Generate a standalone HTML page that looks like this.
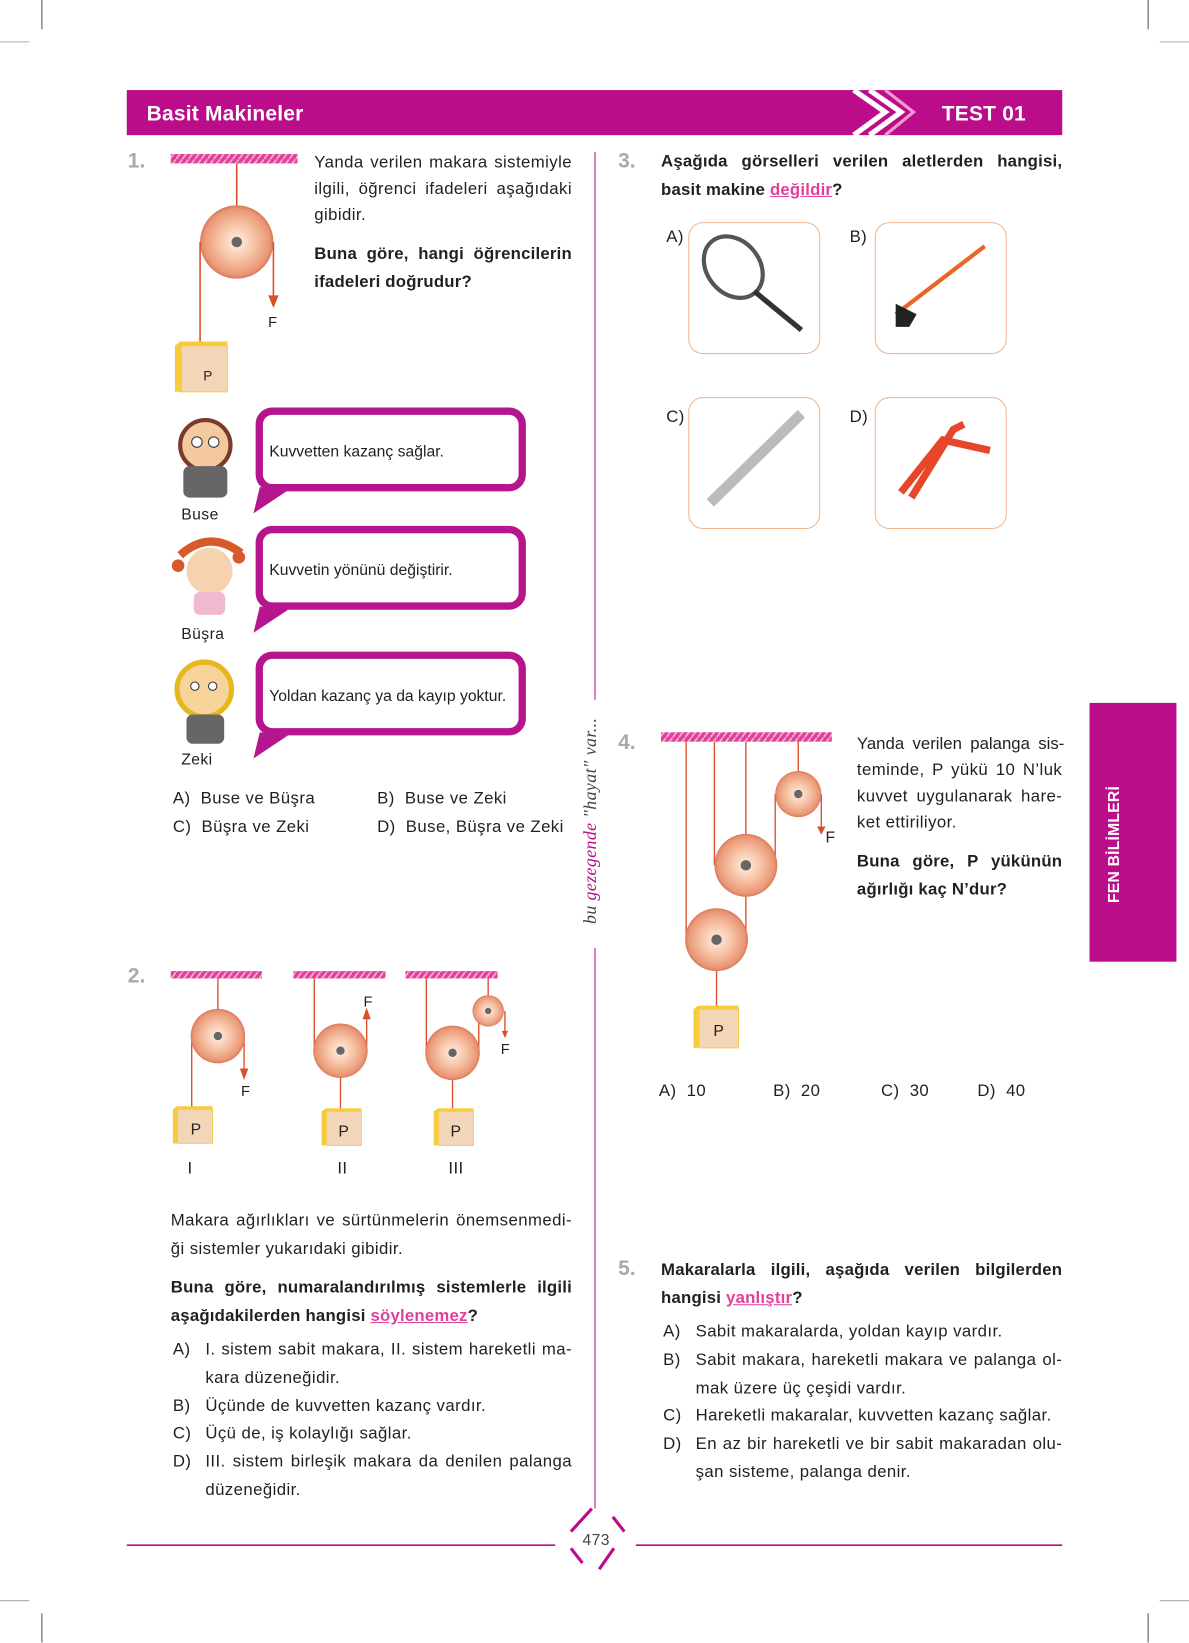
<!DOCTYPE html>
<html><head><meta charset="utf-8"><style>
html,body{margin:0;padding:0;background:#fff;}
body{width:1189px;height:1643px;overflow:hidden;position:relative;}
#w{position:absolute;left:0;top:0;width:1135px;height:1568px;transform:scale(1.04758);transform-origin:0 0;font-family:"Liberation Sans",sans-serif;color:#231f20;}
.t{position:absolute;font-size:16px;white-space:nowrap;line-height:1;letter-spacing:0.4px;margin-top:2px;}
.j{text-align:justify;text-align-last:justify;white-space:normal;}
.b{font-weight:bold;letter-spacing:0.2px;}
.n{position:absolute;font-size:20px;font-weight:bold;color:#a7a9ac;}
.u{color:#e0409a;text-decoration:underline;}
.bub{position:absolute;left:244px;width:258px;height:72px;border:7px solid #b5168e;border-radius:16px;box-sizing:border-box;background:#fff;font-size:15px;}
.bub span{position:absolute;left:6px;top:27px;white-space:nowrap;}
.box{position:absolute;width:126px;height:126px;border:1.5px solid #f2b48f;border-radius:14px;box-sizing:border-box;}
</style></head><body><div id="w">
<svg width="1135" height="1568" style="position:absolute;left:0;top:0">
<defs>
<pattern id="h" width="6" height="8" patternUnits="userSpaceOnUse"><rect width="6" height="8" fill="#e0409a"/><path d="M0 8 L6 0" stroke="#f7b8d8" stroke-width="1.5"/></pattern>
<radialGradient id="pg"><stop offset="0" stop-color="#fff0e6"/><stop offset="0.5" stop-color="#f6c2a4"/><stop offset="0.9" stop-color="#e99775"/><stop offset="1" stop-color="#d9785a"/></radialGradient>
<g id="bx"><path d="M0 4 L5 0 L50 0 L50 44 L45 48 L0 48Z" fill="#f6cc3c"/><rect x="6" y="4" width="44" height="44" fill="#f3d6b8" stroke="#f6cc3c"/></g>
</defs>
<g stroke="#555" stroke-width="1"><line x1="40" y1="0" x2="40" y2="28"/><line x1="1096" y1="0" x2="1096" y2="28"/><line x1="40" y1="1540" x2="40" y2="1568"/><line x1="1096" y1="1540" x2="1096" y2="1568"/></g>
<g stroke="#aaa" stroke-width="1"><line x1="0" y1="40" x2="28" y2="40"/><line x1="1107" y1="40" x2="1135" y2="40"/><line x1="0" y1="1528" x2="28" y2="1528"/><line x1="1107" y1="1528" x2="1135" y2="1528"/></g>
<rect x="121" y="86" width="893" height="43" fill="#bb0d8a"/>
<path d="M815 86 L845 107 L815 129 M830 86 L860 107 L830 129" stroke="#fff" stroke-width="5" fill="none"/>
<path d="M845 86 L872 107 L845 129" stroke="#f39ad0" stroke-width="3" fill="none"/>
<line x1="568" y1="145" x2="568" y2="668" stroke="#bb0d8a"/>
<line x1="568" y1="905" x2="568" y2="1440" stroke="#bb0d8a"/>
<rect x="1040" y="671" width="83" height="247" fill="#bb0d8a"/>
<line x1="121" y1="1475" x2="530" y2="1475" stroke="#bb0d8a" stroke-width="1.5"/>
<line x1="607" y1="1475" x2="1014" y2="1475" stroke="#bb0d8a" stroke-width="1.5"/>
<path d="M565 1440 L545 1462 M585 1448 L596 1462 M545 1478 L556 1492 M586 1478 L572 1498" stroke="#bb0d8a" stroke-width="3" fill="none"/>
<!-- Q1 -->
<rect x="163" y="147" width="121" height="9" fill="url(#h)"/>
<line x1="226" y1="156" x2="226" y2="231" stroke="#d9502c" stroke-width="1.5"/>
<circle cx="226" cy="231" r="35" fill="url(#pg)"/>
<circle cx="226" cy="231" r="5" fill="#666"/>
<line x1="191" y1="231" x2="191" y2="328" stroke="#d9502c" stroke-width="1.5"/>
<line x1="261" y1="231" x2="261" y2="283" stroke="#d9502c" stroke-width="1.5"/>
<path d="M256 282 L266 282 L261 294Z" fill="#d9502c"/>
<use href="#bx" x="167" y="326"/>
<!-- characters -->
<g><circle cx="196" cy="425" r="24" fill="#f5c9a0" stroke="#7a3b2a" stroke-width="4"/><rect x="175" y="445" width="42" height="30" rx="6" fill="#666"/><circle cx="188" cy="422" r="5" fill="#fff" stroke="#333"/><circle cx="204" cy="422" r="5" fill="#fff" stroke="#333"/></g>
<g><circle cx="200" cy="545" r="22" fill="#f7d2b0"/><path d="M172 530 Q200 505 230 528" stroke="#d65a2a" stroke-width="8" fill="none"/><circle cx="170" cy="540" r="6" fill="#d65a2a"/><circle cx="228" cy="532" r="6" fill="#d65a2a"/><rect x="185" y="565" width="30" height="22" rx="6" fill="#f2b8d0"/></g>
<g><circle cx="195" cy="658" r="26" fill="#f7d49a" stroke="#e6b820" stroke-width="5"/><rect x="178" y="682" width="36" height="28" rx="6" fill="#666"/><circle cx="186" cy="655" r="4" fill="#fff" stroke="#333"/><circle cx="203" cy="655" r="4" fill="#fff" stroke="#333"/></g>
<path d="M248 465 L242 490 L275 468Z" fill="#b5168e"/>
<path d="M248 579 L242 604 L275 582Z" fill="#b5168e"/>
<path d="M248 699 L242 724 L275 702Z" fill="#b5168e"/>
<!-- Q2 -->
<rect x="163" y="927" width="87" height="7" fill="url(#h)"/>
<rect x="280" y="927" width="88" height="7" fill="url(#h)"/>
<rect x="387" y="927" width="88" height="7" fill="url(#h)"/>
<g stroke="#d9502c" stroke-width="1.3">
<line x1="208" y1="934" x2="208" y2="989"/><line x1="183" y1="989" x2="183" y2="1058"/><line x1="233" y1="989" x2="233" y2="1022"/>
<line x1="300" y1="934" x2="300" y2="1003"/><line x1="350" y1="1003" x2="350" y2="972"/><line x1="325" y1="1003" x2="325" y2="1060"/>
<line x1="407" y1="934" x2="407" y2="1005"/><line x1="432" y1="1005" x2="432" y2="1060"/><line x1="457" y1="1005" x2="457" y2="965"/><line x1="466" y1="934" x2="466" y2="965"/><line x1="482" y1="965" x2="482" y2="985"/>
</g>
<circle cx="208" cy="989" r="26" fill="url(#pg)"/><circle cx="208" cy="989" r="4" fill="#666"/>
<circle cx="325" cy="1003" r="26" fill="url(#pg)"/><circle cx="325" cy="1003" r="4" fill="#666"/>
<circle cx="432" cy="1005" r="26" fill="url(#pg)"/><circle cx="432" cy="1005" r="4" fill="#666"/>
<circle cx="466" cy="965" r="15" fill="url(#pg)"/><circle cx="466" cy="965" r="3" fill="#666"/>
<path d="M229 1020 L237 1020 L233 1031Z M346 973 L354 973 L350 962Z M479 984 L485 984 L482 991Z" fill="#d9502c"/>
<use href="#bx" transform="translate(165 1056) scale(0.76 0.74)"/>
<use href="#bx" transform="translate(307 1058) scale(0.76 0.74)"/>
<use href="#bx" transform="translate(414 1058) scale(0.76 0.74)"/>
<!-- Q4 -->
<rect x="631" y="699" width="163" height="9" fill="url(#h)"/>
<g stroke="#d9502c" stroke-width="1.3">
<line x1="762" y1="708" x2="762" y2="758"/><line x1="740" y1="758" x2="740" y2="826"/><line x1="784" y1="758" x2="784" y2="790"/>
<line x1="712" y1="708" x2="712" y2="826"/><line x1="682" y1="826" x2="682" y2="708"/><line x1="712" y1="826" x2="712" y2="897"/>
<line x1="655" y1="708" x2="655" y2="897"/><line x1="684" y1="897" x2="684" y2="962"/>
</g>
<circle cx="762" cy="758" r="22" fill="url(#pg)"/><circle cx="762" cy="758" r="4" fill="#666"/>
<circle cx="712" cy="826" r="30" fill="url(#pg)"/><circle cx="712" cy="826" r="5" fill="#666"/>
<circle cx="684" cy="897" r="30" fill="url(#pg)"/><circle cx="684" cy="897" r="5" fill="#666"/>
<path d="M780 789 L788 789 L784 797Z" fill="#d9502c"/>
<use href="#bx" transform="translate(662 960) scale(0.86 0.84)"/>
<!-- Q3 images -->
<ellipse cx="700" cy="255" rx="25" ry="32" transform="rotate(-40 700 255)" fill="none" stroke="#555" stroke-width="4"/>
<line x1="720" y1="278" x2="765" y2="315" stroke="#333" stroke-width="5"/>
<line x1="855" y1="300" x2="940" y2="235" stroke="#e8662a" stroke-width="4"/>
<path d="M855 290 L875 300 L868 312 L855 312Z" fill="#222"/>
<line x1="678" y1="480" x2="765" y2="395" stroke="#bbb" stroke-width="10"/>
<path d="M860 470 L900 420 L945 430 M870 475 L910 410 L920 405" stroke="#e8462a" stroke-width="7" fill="none"/>
</svg>
<div class="t b" style="left:140px;top:97px;font-size:20px;color:#fff">Basit Makineler</div>
<div class="t b" style="left:899px;top:97px;font-size:20px;color:#fff">TEST 01</div>
<div class="t b" style="left:1056px;top:860px;font-size:15px;color:#fff;transform:rotate(-90deg);transform-origin:0 0">FEN BİLİMLERİ</div>
<div class="t" style="left:555px;top:880px;font-size:17px;font-style:italic;font-family:'Liberation Serif',serif;color:#444;transform:rotate(-90deg);transform-origin:0 0">bu <span style="color:#bb0d8a">gezegende</span> "hayat" var...</div>
<div class="t" style="left:556px;top:1461px;font-size:15px;color:#444">473</div>
<!-- Q1 -->
<div class="n" style="left:122px;top:143px">1.</div>
<div class="t j" style="left:300px;top:146px;width:246px">Yanda verilen makara sistemiyle</div>
<div class="t j" style="left:300px;top:171px;width:246px">ilgili, öğrenci ifadeleri aşağıdaki</div>
<div class="t" style="left:300px;top:196px">gibidir.</div>
<div class="t b j" style="left:300px;top:233px;width:246px">Buna göre, hangi öğrencilerin</div>
<div class="t b" style="left:300px;top:260px">ifadeleri doğrudur?</div>
<div class="t" style="left:256px;top:298px;font-size:14px">F</div>
<div class="t" style="left:194px;top:350px;font-size:13px">P</div>
<div class="bub" style="top:389px;height:80px"><span>Kuvvetten kazanç sağlar.</span></div>
<div class="bub" style="top:502px;height:80px"><span>Kuvvetin yönünü değiştirir.</span></div>
<div class="bub" style="top:622px;height:80px"><span>Yoldan kazanç ya da kayıp yoktur.</span></div>
<div class="t" style="left:173px;top:482px;font-size:15px">Buse</div>
<div class="t" style="left:173px;top:596px;font-size:15px">Büşra</div>
<div class="t" style="left:173px;top:716px;font-size:15px">Zeki</div>
<div class="t" style="left:165px;top:753px">A)&nbsp; Buse ve Büşra</div>
<div class="t" style="left:360px;top:753px">B)&nbsp; Buse ve Zeki</div>
<div class="t" style="left:165px;top:780px">C)&nbsp; Büşra ve Zeki</div>
<div class="t" style="left:360px;top:780px">D)&nbsp; Buse, Büşra ve Zeki</div>
<!-- Q2 -->
<div class="n" style="left:122px;top:921px">2.</div>
<div class="t" style="left:230px;top:1032px;font-size:14px">F</div>
<div class="t" style="left:347px;top:947px;font-size:14px">F</div>
<div class="t" style="left:478px;top:992px;font-size:14px">F</div>
<div class="t" style="left:182px;top:1069px;font-size:15px">P</div>
<div class="t" style="left:323px;top:1071px;font-size:15px">P</div>
<div class="t" style="left:430px;top:1071px;font-size:15px">P</div>
<div class="t" style="left:179px;top:1106px">I</div>
<div class="t" style="left:322px;top:1106px">II</div>
<div class="t" style="left:428px;top:1106px">III</div>
<div class="t j" style="left:163px;top:1156px;width:383px">Makara ağırlıkları ve sürtünmelerin önemsenmedi-</div>
<div class="t" style="left:163px;top:1183px">ği sistemler yukarıdaki gibidir.</div>
<div class="t b j" style="left:163px;top:1220px;width:383px">Buna göre, numaralandırılmış sistemlerle ilgili</div>
<div class="t b" style="left:163px;top:1247px">aşağıdakilerden hangisi <span class="u">söylenemez</span>?</div>
<div class="t" style="left:165px;top:1279px">A)</div><div class="t j" style="left:196px;top:1279px;width:350px">I. sistem sabit makara, II. sistem hareketli ma-</div>
<div class="t" style="left:196px;top:1306px">kara düzeneğidir.</div>
<div class="t" style="left:165px;top:1333px">B)</div><div class="t" style="left:196px;top:1333px">Üçünde de kuvvetten kazanç vardır.</div>
<div class="t" style="left:165px;top:1359px">C)</div><div class="t" style="left:196px;top:1359px">Üçü de, iş kolaylığı sağlar.</div>
<div class="t" style="left:165px;top:1386px">D)</div><div class="t j" style="left:196px;top:1386px;width:350px">III. sistem birleşik makara da denilen palanga</div>
<div class="t" style="left:196px;top:1413px">düzeneğidir.</div>
<!-- Q3 -->
<div class="n" style="left:590px;top:143px">3.</div>
<div class="t b j" style="left:631px;top:145px;width:383px">Aşağıda görselleri verilen aletlerden hangisi,</div>
<div class="t b" style="left:631px;top:172px">basit makine <span class="u">değildir</span>?</div>
<div class="box" style="left:657px;top:212px"></div><div class="box" style="left:835px;top:212px"></div>
<div class="box" style="left:657px;top:379px"></div><div class="box" style="left:835px;top:379px"></div>
<div class="t" style="left:636px;top:217px">A)</div><div class="t" style="left:811px;top:217px">B)</div>
<div class="t" style="left:636px;top:389px">C)</div><div class="t" style="left:811px;top:389px">D)</div>
<!-- Q4 -->
<div class="n" style="left:590px;top:698px">4.</div>
<div class="t" style="left:788px;top:790px;font-size:15px">F</div>
<div class="t" style="left:681px;top:975px;font-size:15px">P</div>
<div class="t j" style="left:818px;top:701px;width:198px;letter-spacing:0">Yanda verilen palanga sis-</div>
<div class="t j" style="left:818px;top:726px;width:196px">teminde, P yükü 10 N’luk</div>
<div class="t j" style="left:818px;top:751px;width:196px">kuvvet uygulanarak hare-</div>
<div class="t" style="left:818px;top:776px">ket ettiriliyor.</div>
<div class="t b j" style="left:818px;top:813px;width:196px">Buna göre, P yükünün</div>
<div class="t b" style="left:818px;top:840px">ağırlığı kaç N’dur?</div>
<div class="t" style="left:629px;top:1032px">A)&nbsp; 10</div>
<div class="t" style="left:738px;top:1032px">B)&nbsp; 20</div>
<div class="t" style="left:841px;top:1032px">C)&nbsp; 30</div>
<div class="t" style="left:933px;top:1032px">D)&nbsp; 40</div>
<!-- Q5 -->
<div class="n" style="left:590px;top:1200px">5.</div>
<div class="t b j" style="left:631px;top:1203px;width:383px">Makaralarla ilgili, aşağıda verilen bilgilerden</div>
<div class="t b" style="left:631px;top:1230px">hangisi <span class="u">yanlıştır</span>?</div>
<div class="t" style="left:633px;top:1262px">A)</div><div class="t" style="left:664px;top:1262px">Sabit makaralarda, yoldan kayıp vardır.</div>
<div class="t" style="left:633px;top:1289px">B)</div><div class="t j" style="left:664px;top:1289px;width:350px">Sabit makara, hareketli makara ve palanga ol-</div>
<div class="t" style="left:664px;top:1316px">mak üzere üç çeşidi vardır.</div>
<div class="t" style="left:633px;top:1342px">C)</div><div class="t" style="left:664px;top:1342px">Hareketli makaralar, kuvvetten kazanç sağlar.</div>
<div class="t" style="left:633px;top:1369px">D)</div><div class="t j" style="left:664px;top:1369px;width:350px">En az bir hareketli ve bir sabit makaradan olu-</div>
<div class="t" style="left:664px;top:1396px">şan sisteme, palanga denir.</div>
</div></body></html>
